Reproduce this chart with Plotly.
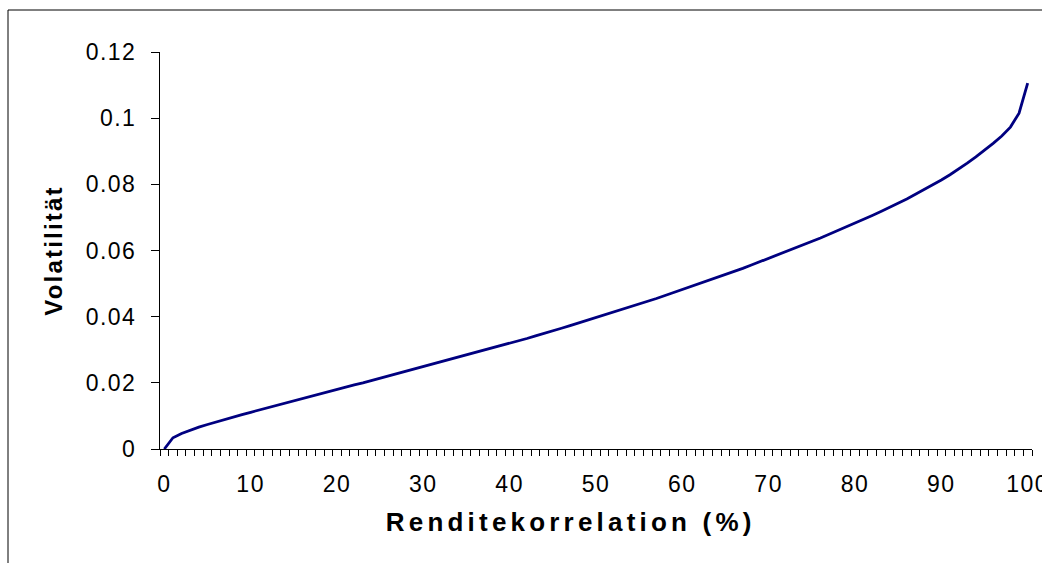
import plotly.graph_objects as go

# Renditekorrelation in % (categories 0..100)
korrelation = list(range(0, 101))

# Volatilität
volatilitaet = [
    0.0000, 0.0034, 0.0047, 0.0057, 0.0066, 0.0074, 0.0082, 0.0090, 0.0097, 0.0104,
    0.0111, 0.0118, 0.0125, 0.0132, 0.0139, 0.0146, 0.0154, 0.0160, 0.0167, 0.0174,
    0.0180, 0.0187, 0.0194, 0.0200, 0.0207, 0.0214, 0.0220, 0.0227, 0.0234, 0.0241,
    0.0248, 0.0255, 0.0262, 0.0269, 0.0276, 0.0283, 0.0290, 0.0297, 0.0305, 0.0312,
    0.0319, 0.0327, 0.0334, 0.0342, 0.0349, 0.0357, 0.0365, 0.0373, 0.0381, 0.0389,
    0.0397, 0.0405, 0.0413, 0.0421, 0.0430, 0.0438, 0.0447, 0.0455, 0.0464, 0.0473,
    0.0481, 0.0490, 0.0499, 0.0509, 0.0518, 0.0527, 0.0537, 0.0546, 0.0556, 0.0566,
    0.0576, 0.0586, 0.0596, 0.0606, 0.0616, 0.0627, 0.0638, 0.0649, 0.0660, 0.0671,
    0.0682, 0.0694, 0.0706, 0.0718, 0.0730, 0.0743, 0.0756, 0.0770, 0.0784, 0.0798,
    0.0813, 0.0829, 0.0846, 0.0864, 0.0883, 0.0903, 0.0924, 0.0946, 0.0973, 0.1015,
    0.1106,
]

x_ticks = list(range(0, 101, 10))
y_ticks = [0, 0.02, 0.04, 0.06, 0.08, 0.1, 0.12]

x_title = "Renditekorrelation (%)"
y_title = "Volatilität"

FONT = "Liberation Sans, Arial, sans-serif"

fig = go.Figure(
    go.Scatter(
        x=korrelation,
        y=volatilitaet,
        mode="lines",
        line=dict(color="#000080", width=2.8),
        hoverinfo="x+y",
    )
)

W, H = 1042, 563
ML, MR, MT, MB = 160, 10, 52, 114
pw = W - ML - MR
ph = H - MT - MB

fig.update_layout(
    width=W,
    height=H,
    margin=dict(l=ML, r=MR, t=MT, b=MB, autoexpand=False),
    paper_bgcolor="white",
    plot_bgcolor="white",
    showlegend=False,
    font=dict(family=FONT, size=23, color="black"),
    xaxis=dict(
        range=[-0.5, 100.5],
        tickmode="array",
        tickvals=x_ticks,
        ticktext=[str(v) for v in x_ticks],
        ticks="",
        showgrid=False,
        zeroline=False,
        showline=True,
        linecolor="black",
        linewidth=1,
        automargin=False,
        ticklabelstandoff=14,
        ticklabeloverflow="allow",
        minor=dict(ticks="outside", tick0=0.5, dtick=1, ticklen=6,
                   tickcolor="black", tickwidth=1, showgrid=False),
        fixedrange=True,
    ),
    yaxis=dict(
        range=[0, 0.12],
        tickmode="array",
        tickvals=y_ticks,
        ticktext=["0", "0.02", "0.04", "0.06", "0.08", "0.1", "0.12"],
        ticks="outside",
        ticklen=8,
        tickcolor="black",
        showgrid=False,
        zeroline=False,
        showline=True,
        linecolor="black",
        linewidth=1,
        automargin=False,
        ticklabelstandoff=10,
        ticklabeloverflow="allow",
        title=dict(text=y_title, font=dict(family=FONT, size=24, color="black", weight="bold"),
                   standoff=22),
        fixedrange=True,
    ),
)

# x-axis title (placed like the original, slightly left of the plot centre)
fig.add_annotation(
    text=x_title, xref="paper", yref="paper",
    x=(570 - ML) / pw, y=(H - MB - 522) / ph,
    xanchor="center", yanchor="middle", showarrow=False,
    font=dict(family=FONT, size=26, color="black", weight="bold"),
)

# outer chart frame (extends beyond the right/bottom edge of the picture)
fig.add_shape(
    type="rect", xref="paper", yref="paper",
    x0=(8 - ML) / pw, x1=(W + 20 - ML) / pw,
    y0=-(H + 20 - (H - MB)) / ph, y1=1 + (MT - 10) / ph,
    line=dict(color="black", width=1), fillcolor="rgba(0,0,0,0)", layer="below",
)

post = """
document.body.style.margin = '0';
document.body.style.padding = '0';
document.body.style.overflow = 'hidden';
var gd = document.getElementById('{plot_id}');
function spacing(){
  gd.querySelectorAll('.xtick text, .ytick text').forEach(function(t){ t.style.letterSpacing = '1.5px'; });
  gd.querySelectorAll('.annotation-text').forEach(function(t){ t.style.letterSpacing = '4.2px'; });
  gd.querySelectorAll('.ytitle').forEach(function(t){ t.style.letterSpacing = '2.2px'; });
}
spacing();
gd.on('plotly_afterplot', spacing);
"""

fig.write_html("out.html", post_script=post, config={"displayModeBar": False})
